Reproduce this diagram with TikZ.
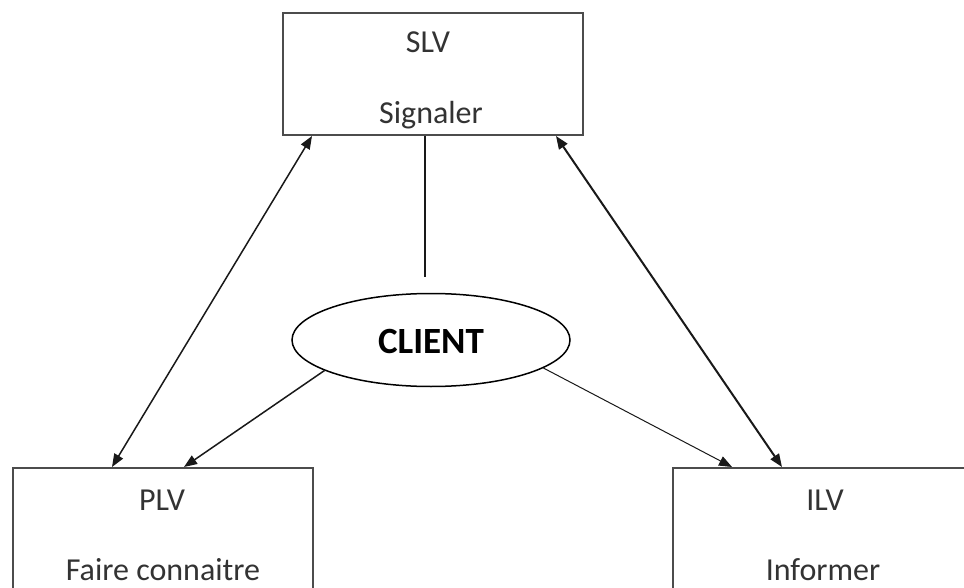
\documentclass[tikz,border=0pt]{standalone}
\usepackage{fontspec}
\setmainfont{Carlito}
\usetikzlibrary{arrows.meta,shapes.geometric,calc}
\tikzset{
  box/.style={draw=black!70, line width=2pt, fill=white, inner sep=0pt},
  boxtext/.style={anchor=base, text=black!80, font=\fontsize{32}{38}\selectfont, inner sep=0pt},
  clientnode/.style={draw=black, line width=1.5pt, ellipse, inner sep=0pt, minimum width=278pt, minimum height=93pt},
  conn/.style={draw=black!90, line width=1.5pt},
  tip/.style={-{Triangle[length=13pt,width=10pt]}},
  dtip/.style={{Triangle[length=13pt,width=10pt]}-{Triangle[length=13pt,width=10pt]}}
}
\begin{document}
\begin{tikzpicture}[x=1pt,y=-1pt]
\useasboundingbox (0,0) rectangle (964,588);
\clip (0,0) rectangle (964,588);
\fill[white] (0,0) rectangle (964,588);
% boxes
\node[box, minimum width=300pt, minimum height=122pt] (slv) at (433,74) {};
\node[box, minimum width=300pt, minimum height=124pt] (plv) at (163,530) {};
\node[box, minimum width=300pt, minimum height=124pt] (ilv) at (823,530) {};
% texts
\node[boxtext] (slvt) at (428,53) {SLV};
\node[boxtext] (slvs) at (431,124) {Signaler};
\node[boxtext] (plvt) at (162,510) {PLV};
\node[boxtext] (plvs) at (163,580) {Faire connaitre};
\node[boxtext] (ilvt) at (825,510) {ILV};
\node[boxtext] (ilvs) at (823,580) {Informer};
% client
\node[clientnode] (client) at (431,340) {};
\node[anchor=base, inner sep=0pt, font=\fontsize{37}{42}\selectfont\bfseries] (clientt) at (431,353) {CLIENT};
% connectors
\coordinate (vend) at (425,277);
\draw[conn] ($(slv.south)+(-8,0)$) -- (vend);
\draw[conn, dtip] ($(slv.south west)+(30,0)$) -- ($(plv.north west)+(100,0)$);
\draw[conn, dtip, line width=2pt] ($(slv.south east)+(-28,0)$) -- ($(ilv.north west)+(110,0)$);
\draw[conn, tip] (client.196) -- ($(plv.north west)+(172,0)$);
\draw[conn, tip, line width=1pt] (client.-14) -- ($(ilv.north west)+(60,0)$);
\end{tikzpicture}
\end{document}
